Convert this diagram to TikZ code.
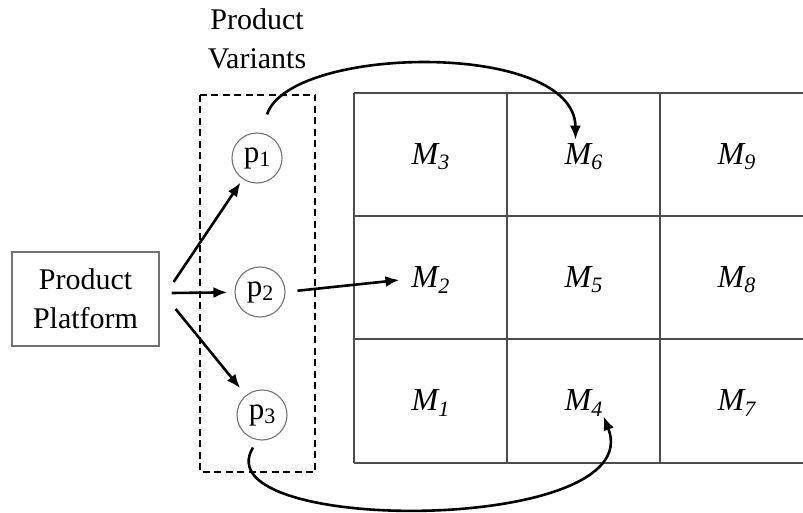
\documentclass[tikz,border=0pt]{standalone}
\usepackage{fontspec}
\setmainfont{Liberation Serif}
\usepackage{tikz}
\usetikzlibrary{arrows.meta,positioning,calc}
\newcommand{\mlab}[1]{\fontsize{32}{32}\selectfont\itshape M\raisebox{-0.35ex}{\fontsize{22}{22}\selectfont #1}}
\newcommand{\plab}[1]{\fontsize{31}{31}\selectfont p\raisebox{-0.3ex}{\fontsize{22}{22}\selectfont #1}}
\tikzset{
  platbox/.style={rectangle, draw=black!55, line width=1.2pt, align=center,
                  minimum width=147pt, minimum height=94pt, inner sep=0pt},
  varcirc/.style={circle, draw=black!55, line width=1.1pt, minimum size=50pt, inner sep=0pt},
  mlabel/.style={inner sep=4pt},
  gridline/.style={draw=black!70, line width=1.2pt},
  varframe/.style={draw=black, line width=2.2pt, dash pattern=on 7pt off 4.5pt},
  flowarr/.style={-{Latex[length=14pt,width=11pt]}, line width=2.6pt, draw=black},
}

\begin{document}
\begin{tikzpicture}[x=1pt, y=1pt, font=\fontsize{30}{39}\selectfont]
    \useasboundingbox (0,0) rectangle (803,-513);
    % grid of modules
    \foreach \yy in {-93,-216,-339,-463}
      \draw[gridline] (354,\yy) -- (803,\yy);
    \foreach \xx in {354,507,660}
      \draw[gridline] (\xx,-93) -- (\xx,-463);
    \foreach \c in {0,1,2}
      \foreach \r in {0,1,2} {
        \pgfmathtruncatemacro\k{3*\c+3-\r}
        \node[mlabel] (m\k) at (430.5+153*\c, -157-123*\r) {\mlab{\k}};
      }
    % platform and variants
    \node[platbox] (plat) at (85.5,-299) {Product\\Platform};
    \node[varcirc] (p1) at (257,-158) {\plab{1}};
    \node[varcirc] (p2) at (260,-292) {\plab{2}};
    \node[varcirc] (p3) at (262,-415) {\plab{3}};
    \node[align=center] (vartitle) at (257,-39) {Product\\Variants};
    \draw[varframe] (200,-95) rectangle (315,-472);
    % connectors
    \draw[flowarr, shorten >=4pt] ([shift={(14pt,17pt)}]plat.east) -- (p1);
    \draw[flowarr, shorten >=7pt] ([shift={(12pt,6pt)}]plat.east) -- (p2);
    \draw[flowarr, shorten >=9pt] ([shift={(16pt,-10pt)}]plat.east) -- (p3);
    \draw[flowarr, shorten <=12pt] (p2.east) -- ([xshift=-8pt]m2.west);
    \draw[flowarr] ([shift={(10pt,18pt)}]p1.north) .. controls (290,-45) and (575,-40) .. ([xshift=-8pt]m6.north);
    \draw[flowarr] ([shift={(-9pt,-7pt)}]p3.south) .. controls (200,-535) and (650,-535) .. ([shift={(-3pt,4pt)}]m4.south east);
  \end{tikzpicture}
\end{document}
